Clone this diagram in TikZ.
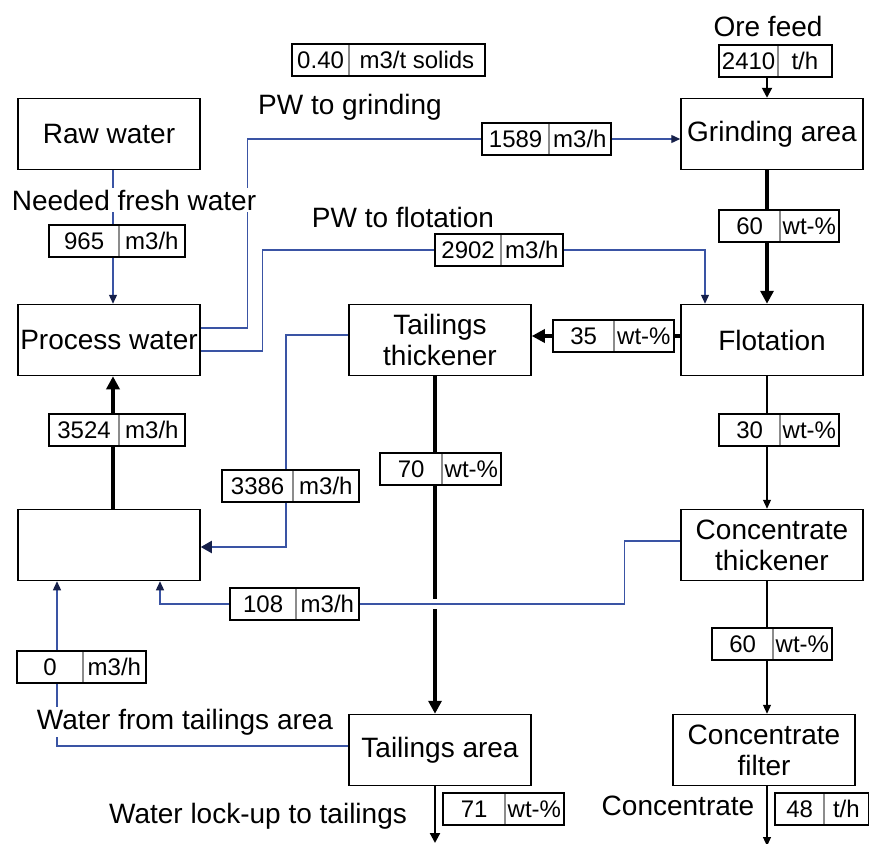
\documentclass[tikz,border=0pt]{standalone}
\usepackage{fontspec}
\setmainfont{Liberation Sans}
\usetikzlibrary{arrows.meta, backgrounds}
\definecolor{cwater}{HTML}{3A54A4}
\definecolor{cnavy}{HTML}{16204A}
\definecolor{cdiv}{HTML}{8C8C8C}
\tikzset{
  every picture/.style={x=1pt, y=-1pt},
  area/.style={draw=black, line width=1.5pt, fill=white, minimum width=182pt, minimum height=71pt, inner sep=1pt, align=center, font=\fontsize{28}{31}\selectfont},
  txt/.style={fill=white, inner sep=1.5pt, font=\fontsize{28}{31}\selectfont},
  cell/.style={draw=cdiv, line width=0.8pt, fill=white, minimum height=31pt, inner sep=0pt, text height=17pt, text depth=0pt, font=\fontsize{24}{26}\selectfont},
  vframe/.style={draw=black, line width=1.5pt},
  slurry/.style={-{Triangle[length=13pt, width=13pt]}, line width=3.4pt},
  feed/.style={-{Triangle[length=10pt, width=10pt]}, line width=2pt},
  pulp/.style={-{Triangle[length=9pt, width=8pt]}, line width=1.1pt},
  water/.style={-{Triangle[length=9pt, width=8pt, color=cnavy]}, draw=cwater, line width=1.3pt},
}
\newcommand{\valbox}[7]{% #1 = name, (#2,#3) = top of divider, #4/#5 = cell widths, #6 = value, #7 = unit
  \node[cell, minimum width=#4pt, anchor=north east] (#1-n) at (#2,#3) {#6};
  \node[cell, minimum width=#5pt, anchor=north west] (#1-u) at (#2,#3) {#7};
  \draw[vframe] (#1-n.north west) rectangle (#1-u.south east);}

\begin{document}
\begin{tikzpicture}
  \useasboundingbox (0,0) rectangle (869,843);
  % process units
  \node[area] (raw) at (109,134) {Raw water};
  \node[area] (pw) at (109,340) {Process water};
  \node[area] (mix) at (109,545) {};
  \node[area] (tthick) at (440,340) {Tailings\\thickener};
  \node[area] (grind) at (772,134) {Grinding area};
  \node[area] (flot) at (772,340) {Flotation};
  \node[area] (cthick) at (772,545) {Concentrate\\thickener};
  \node[area] (cfilt) at (764,750) {Concentrate\\filter};
  \node[area] (tarea) at (440,750) {Tailings area};
  % stream values
  \valbox{solids}{349}{44}{56}{135}{0.40}{m3/t solids}
  \valbox{ore}{778}{45}{58}{53}{2410}{t/h}
  \valbox{fresh}{119}{225}{69}{65}{965}{m3/h}
  \valbox{pwg}{549}{123}{66}{61}{1589}{m3/h}
  \valbox{pwf}{501}{234}{65}{61}{2902}{m3/h}
  \valbox{grd}{780}{210}{60}{58}{60}{wt-\%}
  \valbox{flt}{614}{320}{60}{59}{35}{wt-\%}
  \valbox{cnc}{780}{414}{60}{58}{30}{wt-\%}
  \valbox{ret}{119}{414}{69}{65}{3524}{m3/h}
  \valbox{tthw}{293}{470}{70}{65}{3386}{m3/h}
  \valbox{tth}{442}{453}{61}{58}{70}{wt-\%}
  \valbox{cthw}{296}{588}{65}{62}{108}{m3/h}
  \valbox{cth}{773}{628}{60}{58}{60}{wt-\%}
  \valbox{taw}{83}{651}{65}{62}{0}{m3/h}
  \valbox{tail}{505}{793}{61}{58}{71}{wt-\%}
  \valbox{conc}{824}{793}{48}{44}{48}{t/h}
  % stream names
  \node[txt] (orefeed) at (768,26) {Ore feed};
  \node[txt] (pwgtxt) at (350,107) {PW to grinding};
  \node[txt] (freshtxt) at (134,200) {Needed fresh water};
  \node[txt] (pwftxt) at (403,217) {PW to flotation};
  \node[txt] (tawtxt) at (185,722) {Water from tailings area};
  \node[txt] (locktxt) at (258,816) {Water lock-up to tailings};
  \node[txt] (conctxt) at (678,806) {Concentrate};
  \coordinate (grindin) at ([xshift=-5pt]grind.north);
  \coordinate (flotin) at ([xshift=-67pt]flot.north);
  \coordinate (mixin1) at ([xshift=-52pt]mix.south);
  \coordinate (mixin2) at ([xshift=51pt]mix.south);
  \coordinate (tout) at (435,843);
  \coordinate (cout) at (767,846);
  \coordinate (xing) at (tout |- cthw-n.west);
  \begin{scope}[on background layer]
    % slurry
    \draw[feed] (grindin |- ore-n.south) -- (grindin);
    \draw[slurry] ([xshift=-5pt]grind.south) -- ([xshift=-5pt]flot.north);
    \draw[slurry] ([yshift=4pt]flot.west) -- ([yshift=4pt]tthick.east);
    \draw[slurry] ([xshift=-5pt]tthick.south) -- ([xshift=-5pt]tarea.north);
    \draw[slurry] ([xshift=4pt]mix.north) -- ([xshift=4pt]pw.south);
    \draw[feed, line width=2.2pt] (tarea.south -| tout) -- (tout);
    \draw[pulp] ([xshift=-5pt]flot.south) -- ([xshift=-5pt]cthick.north);
    \draw[pulp] ([xshift=-5pt]cthick.south) -- ([xshift=3pt]cfilt.north);
    \draw[pulp] ([xshift=3pt]cfilt.south) -- (cout);
    \draw[white, line width=7pt] ([yshift=5pt]xing) -- ([yshift=-5pt]xing);
    % water
    \draw[water] ([xshift=4pt]raw.south) -- ([xshift=4pt]pw.north);
    \draw[water] ([yshift=12pt]pw.east) -- ++(47,0) |- ([yshift=-5pt]grind.west);
    \draw[water] ([yshift=-11pt]pw.east) -- ++(62,0) |- (pwf-n.west) -| (flotin);
    \draw[water, line width=2pt, -{Triangle[length=11pt, width=12pt, color=cnavy]}] ([yshift=5pt]tthick.west) -- ++(-62,0) |- ([yshift=-2pt]mix.east);
    \draw[water] ([yshift=4pt]cthick.west) -- ++(-56,0) |- (cthw-n.west) -| (mixin2);
    \draw[water] ([yshift=4pt]tarea.west) -| (mixin1);
  \end{scope}
\end{tikzpicture}
\end{document}
